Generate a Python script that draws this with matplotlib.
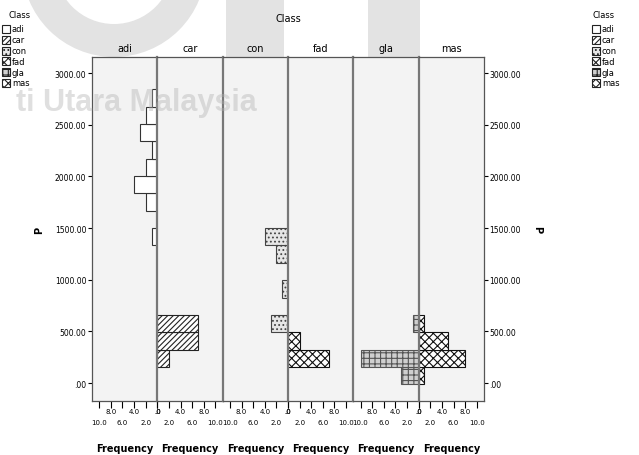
import numpy as np
import matplotlib
matplotlib.use("Agg")
import matplotlib.pyplot as plt
from matplotlib.patches import Rectangle, Wedge

plt.rcParams['font.family'] = ['Liberation Sans Narrow', 'DejaVu Sans']
plt.rcParams['hatch.linewidth'] = 0.8

W, H = 639, 456

# histogram bins of P (bin centres, width 168)
bin_mid = [71, 239, 407, 575, 743, 911, 1079, 1247, 1415, 1583,
           1751, 1919, 2087, 2255, 2423, 2591, 2759]
bin_w = 168

classes = ["adi", "car", "con", "fad", "gla", "mas"]
adi = [0, 0, 0, 0, 0, 0, 0, 0, 1, 0, 2, 4, 2, 1, 3, 2, 1]
car = [0, 2, 7, 7, 0, 0, 0, 0, 0, 0, 0, 0, 0, 0, 0, 0, 0]
con = [0, 0, 0, 3, 0, 1, 0, 2, 4, 0, 0, 0, 0, 0, 0, 0, 0]
fad = [0, 7, 2, 0, 0, 0, 0, 0, 0, 0, 0, 0, 0, 0, 0, 0, 0]
gla = [3, 10, 0, 1, 0, 0, 0, 0, 0, 0, 0, 0, 0, 0, 0, 0, 0]
mas = [1, 8, 5, 1, 0, 0, 0, 0, 0, 0, 0, 0, 0, 0, 0, 0, 0]
counts = [adi, car, con, fad, gla, mas]

y_ticks = [0, 500, 1000, 1500, 2000, 2500, 3000]
y_labels = [".00", "500.00", "1000.00", "1500.00", "2000.00", "2500.00", "3000.00"]

# fill, hatch, edge for each class
styles = {
    "adi": ("white", "", "#333333"),
    "car": ("white", "//////", "#222222"),
    "con": ("#e6e6e6", "....", "#444444"),
    "fad": ("white", "xxxx", "#111111"),
    "gla": ("#cfcfcf", "+++", "#555555"),
    "mas": ("white", "xxxx", "#111111"),
}


def fx(px):
    return px / W


def fy(py):
    return 1 - py / H


fig = plt.figure(figsize=(W / 100, H / 100), dpi=100)
fig.patch.set_facecolor("white")

# watermark shapes in the background
wm = "#e3e3e3"
fig.patches.append(Wedge((1.14, 4.90), 0.92, 180, 360, width=0.33,
                         facecolor=wm, edgecolor="none",
                         transform=fig.dpi_scale_trans, zorder=-2))
fig.patches.append(Rectangle((2.26, 3.98), 0.58, 0.6, facecolor=wm,
                             edgecolor="none", transform=fig.dpi_scale_trans, zorder=-2))
fig.patches.append(Rectangle((3.68, 3.98), 0.52, 0.6, facecolor=wm,
                             edgecolor="none", transform=fig.dpi_scale_trans, zorder=-2))

left, right, top, bottom = 92, 484, 58, 402
pw = (right - left) / 6
ylo, yhi = -174, 3155

for i, name in enumerate(classes):
    ax = fig.add_axes([fx(left + i * pw), fy(bottom), pw / W, (bottom - top) / H])
    ax.set_facecolor("#f3f3f3")
    fc, hatch, ec = styles[name]
    ys = [m for m, c in zip(bin_mid, counts[i]) if c > 0]
    xs = [c for c in counts[i] if c > 0]
    ax.barh(ys, xs, height=bin_w, color=fc, hatch=hatch, edgecolor=ec, linewidth=0.8)
    ax.set_ylim(ylo, yhi)
    if i % 2 == 0:
        ax.set_xlim(11.25, 0)
    else:
        ax.set_xlim(0, 11.25)
    ax.set_xticks([0, 4, 8])
    ax.set_xticklabels([".0", "4.0", "8.0"])
    ax.set_xticks([2, 6, 10], minor=True)
    ax.set_xticklabels(["2.0", "6.0", "10.0"], minor=True)
    ax.tick_params(axis="x", which="major", length=5, pad=0, labelsize=5, width=0.8)
    ax.tick_params(axis="x", which="minor", length=5, pad=8, labelsize=5, width=0.8)
    ax.set_yticks(y_ticks)
    if i == 0:
        ax.set_yticklabels(y_labels)
        ax.tick_params(axis="y", length=3, pad=1, labelsize=5.5)
        ax.set_ylabel("P", fontsize=7, fontweight="bold", labelpad=8)
    elif i == 5:
        ax.yaxis.tick_right()
        ax.set_yticklabels(y_labels)
        ax.tick_params(axis="y", length=3, pad=1, labelsize=5.5)
        ax.yaxis.set_label_position("right")
        ax.set_ylabel("P", fontsize=7, fontweight="bold", labelpad=8, rotation=270, va="bottom")
    else:
        ax.tick_params(axis="y", left=False, labelleft=False)
    for s in ax.spines.values():
        s.set_color("#555555")
        s.set_linewidth(0.9)
    if i > 0:
        ax.spines["left"].set_color("#777777")
        ax.spines["left"].set_linewidth(1.6)
    ax.set_title(name, fontsize=7, pad=4)
    ax.set_xlabel("Frequency", fontsize=7, fontweight="bold", labelpad=13)

fig.text(fx(288), fy(19), "Class", fontsize=7, ha="center", va="center")

# legends on both sides
for lx, tx in [(2, 20), (592, 604)]:
    fig.text(fx(tx), fy(16), "Class", fontsize=6, ha="center", va="center")
    for k, name in enumerate(classes):
        yc = 30 + k * 10.8
        fc, hatch, ec = styles[name]
        fig.patches.append(Rectangle((fx(lx), fy(yc + 4)), 8 / W, 8 / H,
                                     facecolor=fc, hatch=hatch, edgecolor="#222222",
                                     linewidth=0.8, transform=fig.transFigure))
        fig.text(fx(lx + 10), fy(yc), name, fontsize=6, ha="left", va="center")

# watermark text
fig.text(fx(16), fy(103), "ti Utara Malaysia", fontsize=22, fontweight="bold",
         color="#b0b0b0", alpha=0.4, ha="left", va="center", zorder=10,
         family=["Liberation Sans", "DejaVu Sans"])

fig.savefig("out.png", dpi=100)
